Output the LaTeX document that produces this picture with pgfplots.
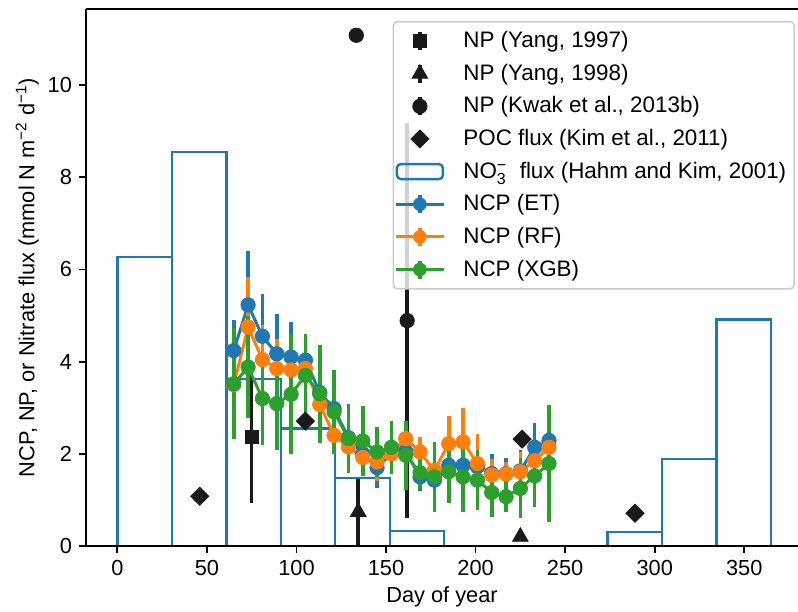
\documentclass[border=0pt]{standalone}
\usepackage{fontspec}
\setmainfont{Liberation Sans}
\usepackage{pgfplots}
\usepackage{pgfplotstable}
\pgfplotsset{compat=1.18}
\definecolor{tabblue}{HTML}{1F77B4}
\definecolor{taborange}{HTML}{FF7F0E}
\definecolor{tabgreen}{HTML}{2CA02C}
\definecolor{mkblack}{HTML}{1A1A1A}

\pgfplotstableread{
day et eterr rf rferr xgb xgberr
65 4.24 0.67 3.50 0.70 3.52 1.20
73 5.23 1.18 4.75 1.08 3.88 1.10
81 4.55 0.92 4.04 0.75 3.20 1.00
89 4.17 0.86 3.85 0.65 3.09 1.00
97 4.10 0.77 3.82 0.60 3.29 1.30
105 4.03 0.55 3.85 0.50 3.70 0.91
113 3.33 0.50 3.07 0.45 3.30 1.07
121 2.98 0.45 2.40 0.40 2.91 0.91
129 2.35 0.40 2.15 0.40 2.33 0.74
137 2.00 0.40 1.92 0.40 2.28 0.76
145 1.70 0.45 1.82 0.40 2.04 0.55
153 2.01 0.45 2.00 0.40 2.14 0.58
161 2.05 0.45 2.33 0.39 1.97 0.75
169 1.50 0.30 2.04 0.32 1.59 0.35
177 1.43 0.70 1.64 0.40 1.50 0.76
185 1.75 0.40 2.22 0.60 1.61 0.68
193 1.75 0.40 2.26 0.74 1.50 0.76
201 1.72 0.40 1.79 0.65 1.43 0.65
209 1.57 0.42 1.54 0.35 1.16 0.53
217 1.57 0.35 1.56 0.27 1.07 0.33
225 1.63 0.45 1.61 0.43 1.25 0.65
233 2.14 0.52 1.85 0.40 1.52 0.67
241 2.29 0.45 2.14 0.40 1.79 1.26
}\ncp

\pgfplotsset{
  npstyle/.style={only marks, color=mkblack, mark size=#1,
    mark options={solid, line width=0.4pt, fill=mkblack},
    error bars/y dir=both, error bars/y explicit, error bars/error mark=none,
    error bars/error bar style={line width=1.8pt, mkblack}},
  errleg/.style={legend image code/.code={
      \draw[mkblack, line width=1.8pt, fill opacity=1] (12pt,-4.5pt) -- (12pt,4.5pt);
      \draw[##1, fill opacity=1] plot coordinates {(12pt,0pt)};}},
  markleg/.style={legend image code/.code={
      \draw[##1, fill opacity=1] plot coordinates {(12pt,0pt)};}},
  barleg/.style={legend image code/.code={
      \draw[tabblue, line width=1.2pt, fill opacity=1] (0.5pt,-3.75pt) rectangle (23.5pt,3.75pt);}},
  ncpstyle/.style={color=#1, line width=1.5pt, mark=*, mark size=3.6pt,
    mark options={solid, line width=0.4pt, fill=#1},
    error bars/y dir=both, error bars/y explicit, error bars/error mark=none,
    error bars/error bar style={line width=1.8pt, color=#1},
    legend image code/.code={
      \draw[##1, fill opacity=1] (0pt,0pt) -- (24pt,0pt);
      \draw[#1, line width=1.8pt, fill opacity=1] (12pt,-4.5pt) -- (12pt,4.5pt);
      \draw[##1, fill opacity=1, mark size=3.2pt] plot coordinates {(12pt,0pt)};}},
}

\begin{document}
\begin{tikzpicture}[font=\fontsize{10.9}{13}\selectfont]
\begin{axis}[
  scale only axis, width=356pt, height=268.5pt,
  xmin=-17.5, xmax=380, ymin=0, ymax=11.65,
  axis x line=box, axis y line=left, axis line style={-, line width=1pt, black},
  axis on top,
  tick pos=left, tick align=outside, major tick length=3.5pt,
  tick style={line width=0.9pt, black},
  xtick={0,50,...,350}, ytick={0,2,...,10},
  /pgf/number format/assume math mode=true,
  xlabel={Day of year},
  xlabel style={yshift=1.5pt},
  ylabel={NCP, NP, or Nitrate flux (mmol N m\textsuperscript{−2} d\textsuperscript{−1})},
  ylabel style={yshift=-2.5pt},
  legend cell align=left,
  legend style={at={(0.9958,0.9777)}, anchor=north east,
    font=\fontsize{11.2}{13.4}\selectfont,
    draw=black!20, line width=0.8pt, rounded corners=2pt,
    fill=white, fill opacity=0.8, text opacity=1, draw opacity=1,
    inner xsep=0.5pt, inner ysep=1.5pt, column sep=5.5pt,
    nodes={inner ysep=3.35pt, inner xsep=3.5pt}, row sep=0pt},
]
% NO3- flux bars (monthly)
\addplot[ybar interval, draw=tabblue, fill=none, line width=1.2pt, forget plot]
  coordinates {(0,6.27) (30.42,8.55) (60.83,3.62) (91.25,2.55) (121.67,1.48) (152.08,0.33) (182.5,0)};
\addplot[ybar interval, draw=tabblue, fill=none, line width=1.2pt, forget plot]
  coordinates {(273.75,0.30) (304.17,1.89) (334.58,4.91) (365,0)};

% NP (Yang, 1997)
\addplot[npstyle=3.3pt, mark=square*, errleg]
  coordinates {(75,2.36) +- (0,1.43)};
\addlegendentry{NP (Yang, 1997)}
% NP (Yang, 1998)
\addplot[npstyle=4.5pt, mark=triangle*, errleg]
  coordinates {(134.5,0.74) +- (0,0.72) (225,0.20) +- (0,0.10)};
\addlegendentry{NP (Yang, 1998)}
% NP (Kwak et al., 2013b)
\addplot[npstyle=3.6pt, mark=*, errleg]
  coordinates {(133.4,11.08) +- (0,0) (161.8,4.89) +- (0,4.28)};
\addlegendentry{NP (Kwak et al., 2013b)}
% POC flux
\addplot[only marks, color=mkblack, mark=square*, mark size=3.2pt,
  mark options={solid, rotate=45, fill=mkblack, line width=0.4pt}, markleg]
  coordinates {(46,1.08) (105,2.71) (226,2.32) (289,0.71)};
\addlegendentry{POC flux (Kim et al., 2011)}
% bar legend
\addlegendimage{barleg}
\addlegendentry{NO$_{\mbox{\footnotesize 3}}^{\mbox{\footnotesize −}}$\ \ flux (Hahm and Kim, 2001)}

% NCP series
\addplot[ncpstyle=tabblue] table[x=day, y=et, y error=eterr]{\ncp};
\addlegendentry{NCP (ET)}
\addplot[ncpstyle=taborange] table[x=day, y=rf, y error=rferr]{\ncp};
\addlegendentry{NCP (RF)}
\addplot[ncpstyle=tabgreen] table[x=day, y=xgb, y error=xgberr]{\ncp};
\addlegendentry{NCP (XGB)}
\end{axis}
\pgfresetboundingbox
\path ([xshift=-43pt,yshift=-32.5pt]current axis.south west) rectangle ([yshift=4.5pt]current axis.north east);
\end{tikzpicture}
\end{document}
